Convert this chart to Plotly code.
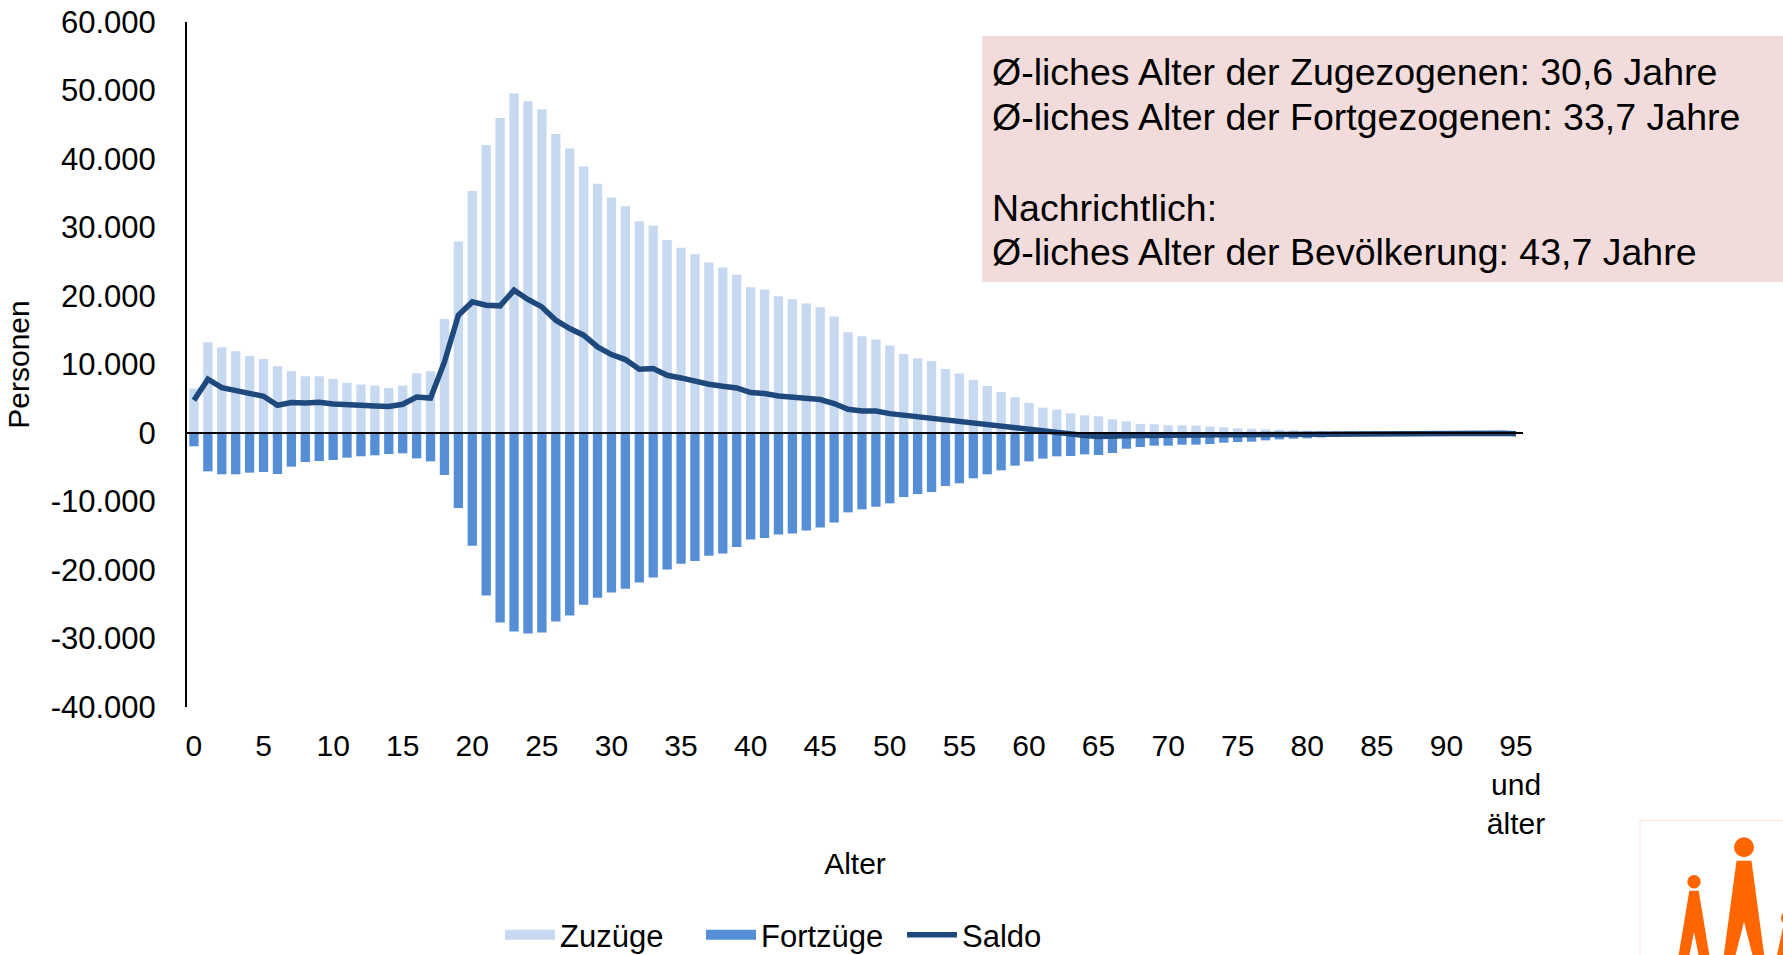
import plotly.graph_objects as go

# ---------------- data ----------------
ages = list(range(96))

zuzuege = [6490, 13250, 12520, 11940, 11250, 10810, 9750, 9020, 8280, 8280,
           7890, 7310, 7070, 6920, 6580, 6920, 8720, 9020, 16660, 27970,
           35320, 42040, 45980, 49590, 48420, 47250, 43640, 41550, 38920, 36380,
           34390, 33120, 30930, 30250, 28160, 27030, 26110, 24900, 24170, 23090,
           21290, 20950, 19970, 19540, 18910, 18370, 17000, 14710, 14130, 13640,
           12770, 11540, 10910, 10520, 9350, 8680, 7740, 6870, 5990, 5220,
           4380, 3710, 3410, 2870, 2580, 2440, 2000, 1700, 1320, 1270,
           1120, 1120, 1070, 930, 830, 680, 630, 540, 490, 390,
           340, 300, 260, 220, 190, 160, 130, 110, 90, 70,
           60, 50, 40, 30, 20, 40]

fortzuege = [-1940, -5600, -6030, -6030, -5790, -5700, -5990, -4910, -4240, -4090,
             -3940, -3600, -3400, -3260, -3070, -2970, -3700, -4140, -6130, -10960,
             -16460, -23710, -27660, -28970, -29270, -29120, -27510, -26640, -25080, -24050,
             -23300, -22740, -21820, -21080, -19920, -19090, -18700, -17920, -17580, -16660,
             -15540, -15340, -14800, -14660, -14220, -13780, -13050, -11590, -11150, -10760,
             -10270, -9350, -8910, -8620, -7740, -7350, -6620, -6030, -5450, -4770,
             -4140, -3740, -3410, -3360, -3120, -3210, -2920, -2290, -2050, -1850,
             -1850, -1700, -1700, -1610, -1410, -1320, -1270, -1070, -930, -830,
             -780, -650, -550, -450, -380, -320, -260, -220, -180, -140,
             -110, -90, -70, -50, -40, -60]

saldo = [4780, 7850, 6630, 6140, 5760, 5360, 4050, 4440, 4380, 4490,
         4240, 4050, 4050, 3950, 3860, 4190, 5260, 5110, 10370, 17200,
         19140, 18660, 18560, 20850, 19490, 18410, 16470, 15250, 14280, 12570,
         11450, 10720, 9310, 9410, 8430, 8040, 7550, 7120, 6820, 6580,
         5900, 5760, 5410, 5220, 4970, 4880, 4300, 3460, 3210, 3210,
         2830, 2590, 2340, 2250, 1960, 1710, 1460, 1170, 940, 730,
         500, 250, 100, -200, -350, -500, -550, -400, -350, -300,
         -300, -300, -280, -270, -250, -250, -230, -220, -200, -200,
         -180, -150, -140, -120, -100, -80, -60, -50, -50, -40,
         -40, -30, -30, -20, -30, -100]

x_tickvals = list(range(0, 96, 5))
x_ticktext = [str(v) for v in x_tickvals[:-1]] + ["95<br>und<br>älter"]

y_tickvals = list(range(-40000, 60001, 10000))
y_ticktext = ["-40.000", "-30.000", "-20.000", "-10.000", "0",
              "10.000", "20.000", "30.000", "40.000", "50.000", "60.000"]

info_lines = ["Ø-liches Alter der Zugezogenen: 30,6 Jahre",
              "Ø-liches Alter der Fortgezogenen: 33,7 Jahre",
              "Nachrichtlich:",
              "Ø-liches Alter der Bevölkerung: 43,7 Jahre"]
info_line_y = [72, 117, 208, 252]   # pixel centres of the text lines

COL_ZU = "#C6D9F1"
COL_FORT = "#558ED5"
COL_SALDO = "#1F497D"

# ---------------- layout geometry (pixels) ----------------
W, H = 1783, 955
ML, MR, MT, MB = 187, 260, 22, 248
PW, PH = W - ML - MR, H - MT - MB
FONT = "Liberation Sans, Arial, sans-serif"


def fx(px):
    return (px - ML) / PW


def fy(py):
    return (H - MB - py) / PH


fig = go.Figure()
fig.add_trace(go.Bar(x=ages, y=zuzuege, name="Zuzüge", marker_color=COL_ZU,
                     marker_line_width=0, legendgroup="zu", showlegend=False))
fig.add_trace(go.Bar(x=ages, y=fortzuege, name="Fortzüge", marker_color=COL_FORT,
                     marker_line_width=0, legendgroup="fort", showlegend=False))
# legend entries drawn as wide swatches (like the original legend keys)
fig.add_trace(go.Scatter(x=[None], y=[None], mode="lines", name="Zuzüge",
                         line=dict(color=COL_ZU, width=16), legendgroup="zu",
                         hoverinfo="skip"))
fig.add_trace(go.Scatter(x=[None], y=[None], mode="lines", name="Fortzüge",
                         line=dict(color=COL_FORT, width=16), legendgroup="fort",
                         hoverinfo="skip"))
fig.add_trace(go.Scatter(x=ages, y=saldo, name="Saldo", mode="lines",
                         line=dict(color=COL_SALDO, width=5.5)))

shapes = []
# info box
shapes.append(dict(type="rect", xref="paper", yref="paper",
                   x0=fx(982), x1=fx(1795), y0=fy(282), y1=fy(36),
                   fillcolor="#F2DCDB", line_width=0, layer="below"))
# logo
orange = "#FF6600"
shapes.append(dict(type="rect", xref="paper", yref="paper",
                   x0=fx(1640), x1=fx(1800), y0=fy(965), y1=fy(820.7),
                   fillcolor="white", line=dict(color="#FBE3D4", width=1)))


def circ(cx, cy, r):
    return dict(type="circle", xref="paper", yref="paper",
                x0=fx(cx - r), x1=fx(cx + r), y0=fy(cy + r), y1=fy(cy - r),
                fillcolor=orange, line_width=0)


def body(cx, ytop, htop, ynotch, hin, hout, ybot=965):
    pts = [(cx - htop, ytop), (cx + htop, ytop), (cx + hout, ybot), (cx + hin, ybot),
           (cx, ynotch), (cx - hin, ybot), (cx - hout, ybot)]
    path = "M " + " L ".join(f"{fx(a):.5f},{fy(b):.5f}" for a, b in pts) + " Z"
    return dict(type="path", xref="paper", yref="paper", path=path,
                fillcolor=orange, line_width=0)


shapes.append(circ(1694, 881.7, 6.7))
shapes.append(body(1694, 890.7, 4.7, 932, 6.5, 17))
shapes.append(circ(1744, 847.3, 10))
shapes.append(body(1744, 860.7, 7.5, 921.7, 11, 21.5))
shapes.append(circ(1788, 918, 7))
shapes.append(body(1788, 927, 5, 965, 0, 13))

annotations = [dict(xref="paper", yref="paper", x=fx(990), y=fy(yc),
                    xanchor="left", yanchor="middle", align="left", showarrow=False,
                    text=line, font=dict(family=FONT, size=37.5, color="black"))
               for line, yc in zip(info_lines, info_line_y)]

fig.update_layout(
    width=W, height=H,
    margin=dict(l=ML, r=MR, t=MT, b=MB, autoexpand=False),
    paper_bgcolor="white", plot_bgcolor="white",
    barmode="relative", bargap=0.33,
    font=dict(family=FONT, size=31, color="black"),
    showlegend=True,
    legend=dict(orientation="h", x=fx(500), xanchor="left", y=fy(935), yanchor="middle",
                font=dict(family=FONT, size=31, color="black"),
                itemwidth=50, entrywidth=136, entrywidthmode="pixels",
                traceorder="normal", bgcolor="rgba(0,0,0,0)"),
    shapes=shapes,
    annotations=annotations,
    xaxis=dict(range=[-0.5, 95.5], tickmode="array", tickvals=x_tickvals, ticktext=x_ticktext,
               showline=False, showgrid=False, zeroline=False, ticks="",
               ticklabelstandoff=18,
               tickfont=dict(family=FONT, size=30, color="black"),
               title=dict(text="Alter", standoff=13,
                          font=dict(family=FONT, size=30, color="black"))),
    yaxis=dict(range=[-40000, 60000], tickmode="array", tickvals=y_tickvals, ticktext=y_ticktext,
               showline=True, linecolor="black", linewidth=2, showgrid=False,
               zeroline=True, zerolinecolor="black", zerolinewidth=2, ticks="",
               ticklabelstandoff=23,
               tickfont=dict(family=FONT, size=31, color="black"),
               title=dict(text="Personen", standoff=12,
                          font=dict(family=FONT, size=30, color="black"))),
)

try:
    fig.update_yaxes(zerolinelayer="above traces")
except Exception:
    fig.add_shape(type="line", xref="x", yref="y", x0=-0.5, x1=95.5, y0=0, y1=0,
                  line=dict(color="black", width=2), layer="above")

fig.write_html("out.html", config={"displayModeBar": False},
               post_script="document.body.style.margin='0';document.body.style.overflow='hidden';")
